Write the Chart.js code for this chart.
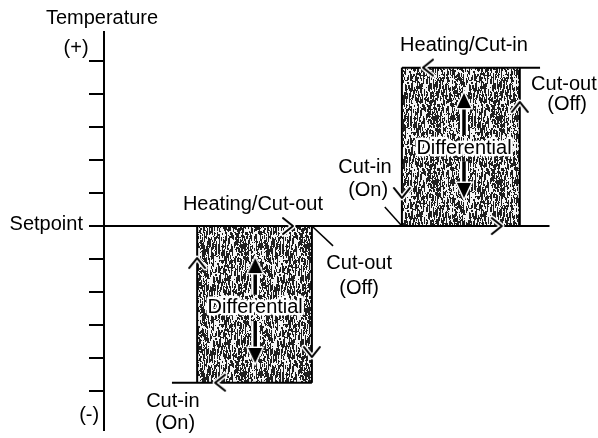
<!DOCTYPE html>
<html>
<head>
<meta charset="utf-8">
<script src="https://cdn.jsdelivr.net/npm/chart.js@4/dist/chart.umd.min.js"></script>
<style>
  html, body { margin: 0; padding: 0; background: #fff; }
</style>
</head>
<body>
<canvas id="chart" width="598" height="438"></canvas>
<script>
// Data: x = time (arbitrary units), y = temperature relative to setpoint (tick units)
const yTicks = [-5, -4, -3, -2, -1, 0, 1, 2, 3, 4, 5];
const setpointX = [0, 99];

const lowerX = [20.7, 46.2];     // cut-in edge, cut-out edge
const lowerY = [-4.75, 0];       // bottom, setpoint
const lowerLeadX = 15.1;

const upperX = [66.2, 92.4];
const upperY = [0, 4.8];
const upperTailX = 96.9;

// direction chevrons along the path (tip position, direction in degrees)
const chevronX = [42, 20.7, 46.2, 24.7, 70.9, 92.4, 66.2, 88.4];
const chevronY = [0, -0.97, -3.97, -4.75, 4.8, 3.76, 0.85, 0];
const chevronDir = [0, -90, 90, 180, 180, -90, 90, 0];

// differential arrows
const diffX = [33.6, 80];
const diffLow = [-4.15, 0.85];
const diffHigh = [-0.97, 4.03];
const diffMid = [-2.48, 2.36];

// leader lines from labels to the corners
const leaderX = [[46.2, 50.9], [66.2, 62.4]];
const leaderY = [[0, -0.6], [0, 0.58]];

// text notes (data coordinates)
const notes = [
  { text: 'Temperature', x: -0.44, y: 6.3 },
  { text: '(+)', x: -6.2, y: 5.39 },
  { text: 'Setpoint', x: -4.67, y: 0.06, align: 'right' },
  { text: '(-)', x: -3.3, y: -5.73 },
  { text: 'Cut-in', x: 15.3, y: -5.33 },
  { text: '(On)', x: 15.8, y: -5.97 },
  { text: 'Heating/Cut-out', x: 33.1, y: 0.64 },
  { text: 'Cut-out', x: 56.7, y: -1.12 },
  { text: '(Off)', x: 56.7, y: -1.88 },
  { text: 'Heating/Cut-in', x: 80, y: 5.48 },
  { text: 'Cut-out', x: 102.2, y: 4.3 },
  { text: '(Off)', x: 102.9, y: 3.67 },
  { text: 'Cut-in', x: 58, y: 1.76 },
  { text: '(On)', x: 58.7, y: 1.09 }
];

const FONT = '20px "Liberation Sans", Arial, sans-serif';

// Helpers
function pts(xs, ys) {
  return xs.map((x, i) => ({ x, y: ys[i] }));
}

function makeTexture() {
  const c = document.createElement('canvas');
  c.width = 64; c.height = 64;
  const g = c.getContext('2d');
  const img = g.createImageData(64, 64);
  let s = 12345;
  const rnd = () => (s = (Math.imul(s, 1103515245) + 12345) >>> 0) / 4294967296;
  for (let x = 0; x < 64; x++) {
    let dark = rnd() < 0.5;
    for (let y = 0; y < 64; y++) {
      if (rnd() < 0.45) dark = rnd() < 0.52;
      const v = dark ? 30 : 245;
      const i = (y * 64 + x) * 4;
      img.data[i] = img.data[i + 1] = img.data[i + 2] = v;
      img.data[i + 3] = 255;
    }
  }
  g.putImageData(img, 0, 0);
  return g.createPattern(c, 'repeat');
}

// open arrow, tip at the centre of the image, pointing right
function makeChevron() {
  const c = document.createElement('canvas');
  c.width = 28; c.height = 28;
  const g = c.getContext('2d');
  g.lineCap = 'round';
  g.lineJoin = 'round';
  const path = () => { g.beginPath(); g.moveTo(4, 6); g.lineTo(14, 14); g.lineTo(4, 22); };
  path(); g.strokeStyle = '#fff'; g.lineWidth = 5; g.stroke();
  path(); g.strokeStyle = '#000'; g.lineWidth = 2; g.stroke();
  return c;
}

// filled arrow head, tip at the centre, pointing up
function makeHead() {
  const c = document.createElement('canvas');
  c.width = 20; c.height = 36;
  const g = c.getContext('2d');
  g.beginPath();
  g.moveTo(10, 18); g.lineTo(17, 33); g.lineTo(3, 33); g.closePath();
  g.strokeStyle = '#fff';
  g.lineWidth = 3;
  g.stroke();
  g.fillStyle = '#000';
  g.fill();
  return c;
}

const texture = makeTexture();
const chevron = makeChevron();
const head = makeHead();

// higher order = drawn first (underneath)
function lineSet(data, width, color, order) {
  return {
    data, borderColor: color || '#000', borderWidth: width || 2,
    pointRadius: 0, fill: false, tension: 0, order: order === undefined ? 3 : order
  };
}

const datasets = [
  // shaded bands
  { data: pts(lowerX, [lowerY[0], lowerY[0]]), fill: { value: lowerY[1] }, backgroundColor: texture, borderWidth: 0, pointRadius: 0, order: 5 },
  { data: pts(upperX, [upperY[1], upperY[1]]), fill: { value: upperY[0] }, backgroundColor: texture, borderWidth: 0, pointRadius: 0, order: 5 },
  // setpoint line
  lineSet(pts(setpointX, [0, 0])),
  // lower cycle path
  lineSet(pts([lowerLeadX, lowerX[1]], [lowerY[0], lowerY[0]])),
  lineSet(pts([lowerX[0], lowerX[0]], lowerY)),
  lineSet(pts([lowerX[1], lowerX[1]], lowerY)),
  // upper cycle path
  lineSet(pts([upperX[0], upperTailX], [upperY[1], upperY[1]])),
  lineSet(pts([upperX[0], upperX[0]], upperY)),
  lineSet(pts([upperX[1], upperX[1]], upperY)),
  // leaders
  lineSet(pts(leaderX[0], leaderY[0]), 1.5),
  lineSet(pts(leaderX[1], leaderY[1]), 1.5)
];

// differential shafts (white halo then black core)
diffX.forEach((x, i) => {
  const upSeg = pts([x, x], [diffHigh[i] - 0.3, diffMid[i] + 0.4]);
  const dnSeg = pts([x, x], [diffMid[i] - 0.4, diffLow[i] + 0.3]);
  datasets.push(lineSet(upSeg, 8, '#fff', 2), lineSet(dnSeg, 8, '#fff', 2));
  datasets.push(lineSet(upSeg, 3.5, '#000', 1), lineSet(dnSeg, 3.5, '#000', 1));
});

// arrow heads
datasets.push({
  data: pts(diffX.concat(diffX), diffHigh.concat(diffLow)),
  showLine: false, pointStyle: head, pointRadius: 6,
  rotation: [0, 0, 180, 180], order: 0
});

// chevrons
datasets.push({
  data: pts(chevronX, chevronY),
  showLine: false, pointStyle: chevron, pointRadius: 6,
  rotation: chevronDir, order: 0
});

const notesPlugin = {
  id: 'notes',
  afterDatasetsDraw(chart) {
    const { ctx, scales: { x, y } } = chart;
    ctx.save();
    ctx.font = FONT;
    ctx.textBaseline = 'middle';
    ctx.fillStyle = '#000';
    notes.forEach(n => {
      ctx.textAlign = n.align || 'center';
      ctx.fillText(n.text, x.getPixelForValue(n.x), y.getPixelForValue(n.y));
    });
    // Differential labels with a white halo
    ctx.textAlign = 'center';
    ctx.lineJoin = 'round';
    diffX.forEach((dx, i) => {
      const px = x.getPixelForValue(dx), py = y.getPixelForValue(diffMid[i]);
      ctx.lineWidth = 5;
      ctx.strokeStyle = '#fff';
      ctx.strokeText('Differential', px, py);
      ctx.fillText('Differential', px, py);
    });
    ctx.restore();
  }
};

new Chart(document.getElementById('chart'), {
  type: 'line',
  data: { datasets },
  plugins: [notesPlugin],
  options: {
    responsive: false,
    animation: false,
    devicePixelRatio: 1,
    layout: { padding: { top: 32, bottom: 8, left: 0, right: 44 } },
    plugins: { legend: { display: false }, tooltip: { enabled: false } },
    elements: { point: { hoverRadius: 6 } },
    datasets: { line: { clip: false } },
    scales: {
      x: { type: 'linear', display: false, min: 0, max: 100 },
      y: {
        type: 'linear', min: -6.18, max: 5.88,
        afterBuildTicks: scale => { scale.ticks = yTicks.map(v => ({ value: v })); },
        afterFit: scale => { scale.width = 104; },
        ticks: { display: false },
        border: { display: true, color: '#000', width: 2 },
        grid: { drawOnChartArea: false, drawTicks: true, tickLength: 15, color: '#000', lineWidth: 2 }
      }
    }
  }
});
</script>
</body>
</html>
